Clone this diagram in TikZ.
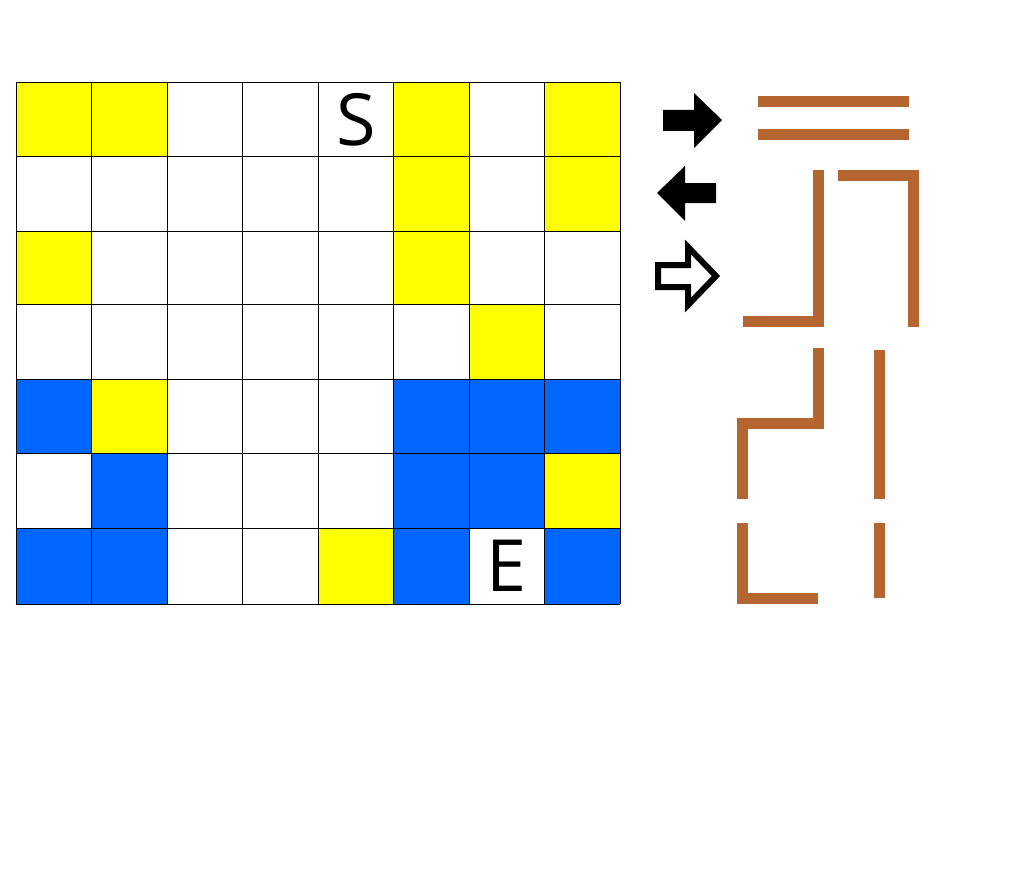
\documentclass[tikz,border=0pt]{standalone}
\usepackage{fontspec}
\setmainfont{Open Sans}
\definecolor{cyel}{RGB}{255,255,0}
\definecolor{cblu}{RGB}{0,102,255}
\definecolor{cbrn}{RGB}{180,101,48}
\tikzset{
  wall/.style={draw=cbrn,line width=11pt,line cap=butt,line join=miter},
  solidarrow/.style={fill=black,draw=none},
  hollowarrow/.style={draw=black,fill=white,line width=6pt,line join=miter},
  gridline/.style={draw=black,line width=0.9pt},
  lbl/.style={font=\fontsize{72}{80}\selectfont,text=black,inner sep=0pt}
}
\begin{document}
\begin{tikzpicture}[x=1pt,y=-1pt]
\useasboundingbox (0,0) rectangle (1020,888);
\fill[white] (0,0) rectangle (1020,888);
\def\xs{{16,91.5,167,242.5,318,393.5,469,544.5,620}}
\def\ys{{82,156,231,304,379,453.5,528.5,604}}
% color map: 0 white, 1 yellow, 2 blue
\def\cmap{{{1,1,0,0,0,1,0,1},{0,0,0,0,0,1,0,1},{1,0,0,0,0,1,0,0},{0,0,0,0,0,0,1,0},{2,1,0,0,0,2,2,2},{0,2,0,0,0,2,2,1},{2,2,0,0,1,2,0,2}}}
\foreach \r in {0,...,6}{
  \foreach \c in {0,...,7}{
    \pgfmathtruncatemacro{\v}{\cmap[\r][\c]}
    \pgfmathsetmacro{\xa}{\xs[\c]}
    \pgfmathsetmacro{\xb}{\xs[\c+1]}
    \pgfmathsetmacro{\ya}{\ys[\r]}
    \pgfmathsetmacro{\yb}{\ys[\r+1]}
    \ifnum\v=1 \fill[cyel] (\xa,\ya) rectangle (\xb,\yb); \fi
    \ifnum\v=2 \fill[cblu] (\xa,\ya) rectangle (\xb,\yb); \fi
  }
}
\foreach \i in {0,...,8}{
  \pgfmathsetmacro{\xx}{\xs[\i]}
  \draw[gridline] (\xx,82) -- (\xx,604);
}
\foreach \i in {0,...,7}{
  \pgfmathsetmacro{\yy}{\ys[\i]}
  \draw[gridline] (16,\yy) -- (620,\yy);
}
\node[lbl] (S) at (356,120) {S};
\node[lbl] (E) at (507,566) {E};
% arrows
\path[solidarrow] (663,110) -- (694,110) -- (694,93) -- (722,120) -- (694,148) -- (694,131) -- (663,131) -- cycle;
\path[solidarrow] (716,183) -- (685,183) -- (685,166) -- (657,193) -- (685,221) -- (685,203) -- (716,203) -- cycle;
\draw[hollowarrow] (658,265) -- (688,265) -- (688,247) -- (716,276) -- (688,305) -- (688,287) -- (658,287) -- cycle;
% walls
\draw[wall] (758,102) -- (909,102);
\draw[wall] (758,134.5) -- (909,134.5);
\draw[wall] (818.5,170) -- (818.5,321.5) -- (743,321.5);
\draw[wall] (838,175.5) -- (913.5,175.5) -- (913.5,327);
\draw[wall] (818.5,348) -- (818.5,423.5) -- (742.5,423.5) -- (742.5,499);
\draw[wall] (879.5,350) -- (879.5,499);
\draw[wall] (742.5,523) -- (742.5,598.5) -- (818,598.5);
\draw[wall] (879.5,523) -- (879.5,598);
\end{tikzpicture}
\end{document}
